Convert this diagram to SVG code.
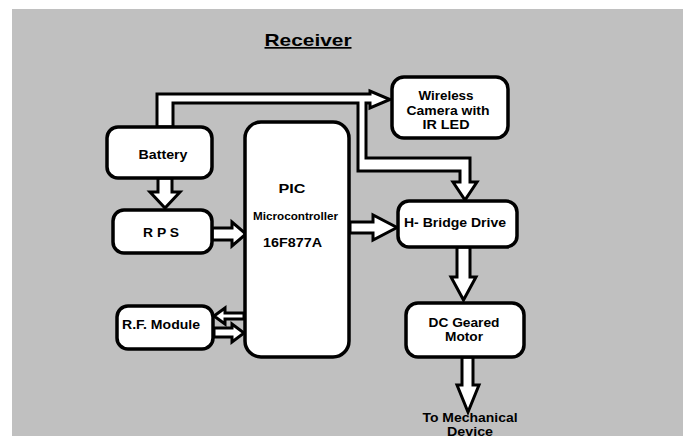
<svg xmlns="http://www.w3.org/2000/svg" width="683" height="436" viewBox="0 0 683 436">
<style>
.box{fill:#fff;stroke:#000;stroke-width:3.5}
.arr{fill:#fff;stroke:#000;stroke-width:3;stroke-linejoin:miter}
text{font-family:"Liberation Sans",Arial,sans-serif;font-weight:bold;font-size:12px;fill:#000;text-anchor:middle}
.small{font-size:10px}
.title{font-size:17px;text-decoration:underline}
</style>
<rect x="0" y="0" width="683" height="436" fill="#fff"/>
<rect x="12" y="9" width="671" height="427" fill="#c0c0c0"/>
<text class="title" x="308" y="46" textLength="87" lengthAdjust="spacingAndGlyphs">Receiver</text>
<g id="connectors">
<polygon class="arr" points="157,127 157,94 370,94 370,91 390,99.5 370,108 370,103 366,103 366,158 470,158 470,182 477,182 465,200 453,182 460,182 460,171 358,171 358,103 173,103 173,127"/>
<polygon class="arr" points="158,178 158,192 150,192 165,208 180,192 172,192 172,178"/>
<polygon class="arr" points="212,228 232,228 232,222 246,234 232,246 232,240 212,240"/>
<polygon class="arr" points="350,222 373,222 373,215 397,227.5 373,240 373,233 350,233"/>
<polygon class="arr" points="457,247 457,277 451,277 463.5,300 476,277 470,277 470,247"/>
<polygon class="arr" points="462,357 462,385 457,385 468,412 479,385 473,385 473,357"/>
<polygon class="arr" points="244,313 225,313 225,308 214,316 225,324 225,319 244,319"/>
<polygon class="arr" points="214,328 232,328 232,324 244,333 232,342 232,337 214,337"/>
</g>
<g id="battery">
<rect class="box" x="107" y="127" width="105" height="51" rx="11"/>
<text x="163" y="159" textLength="49" lengthAdjust="spacingAndGlyphs">Battery</text>
</g>
<g id="camera">
<rect class="box" x="392" y="77" width="116" height="61" rx="12"/>
<text x="446" y="100" textLength="55" lengthAdjust="spacingAndGlyphs">Wireless</text>
<text x="448" y="115" textLength="83" lengthAdjust="spacingAndGlyphs">Camera with</text>
<text x="446" y="129" textLength="47" lengthAdjust="spacingAndGlyphs">IR LED</text>
</g>
<g id="pic">
<rect class="box" x="245" y="122" width="104" height="235" rx="16"/>
<text x="292" y="193" textLength="27" lengthAdjust="spacingAndGlyphs">PIC</text>
<text class="small" x="295.5" y="220" textLength="85" lengthAdjust="spacingAndGlyphs">Microcontroller</text>
<text x="292.5" y="247" textLength="59" lengthAdjust="spacingAndGlyphs">16F877A</text>
</g>
<g id="rps">
<rect class="box" x="113" y="210" width="99" height="43" rx="11"/>
<text x="161" y="237" textLength="36" lengthAdjust="spacingAndGlyphs">R P S</text>
</g>
<g id="rf">
<rect class="box" x="117" y="306" width="96" height="43" rx="11"/>
<text x="161" y="329" textLength="78" lengthAdjust="spacingAndGlyphs">R.F. Module</text>
</g>
<g id="hbridge">
<rect class="box" x="398" y="201" width="119" height="46" rx="11"/>
<text x="455" y="227" textLength="102" lengthAdjust="spacingAndGlyphs">H- Bridge Drive</text>
</g>
<g id="motor">
<rect class="box" x="406" y="303" width="118" height="54" rx="12"/>
<text x="464" y="327" textLength="71" lengthAdjust="spacingAndGlyphs">DC Geared</text>
<text x="464" y="341" textLength="38" lengthAdjust="spacingAndGlyphs">Motor</text>
</g>
<g id="mechanical">
<text x="470" y="422" textLength="95" lengthAdjust="spacingAndGlyphs">To Mechanical</text>
<text x="470" y="436" textLength="46" lengthAdjust="spacingAndGlyphs">Device</text>
</g>
</svg>
